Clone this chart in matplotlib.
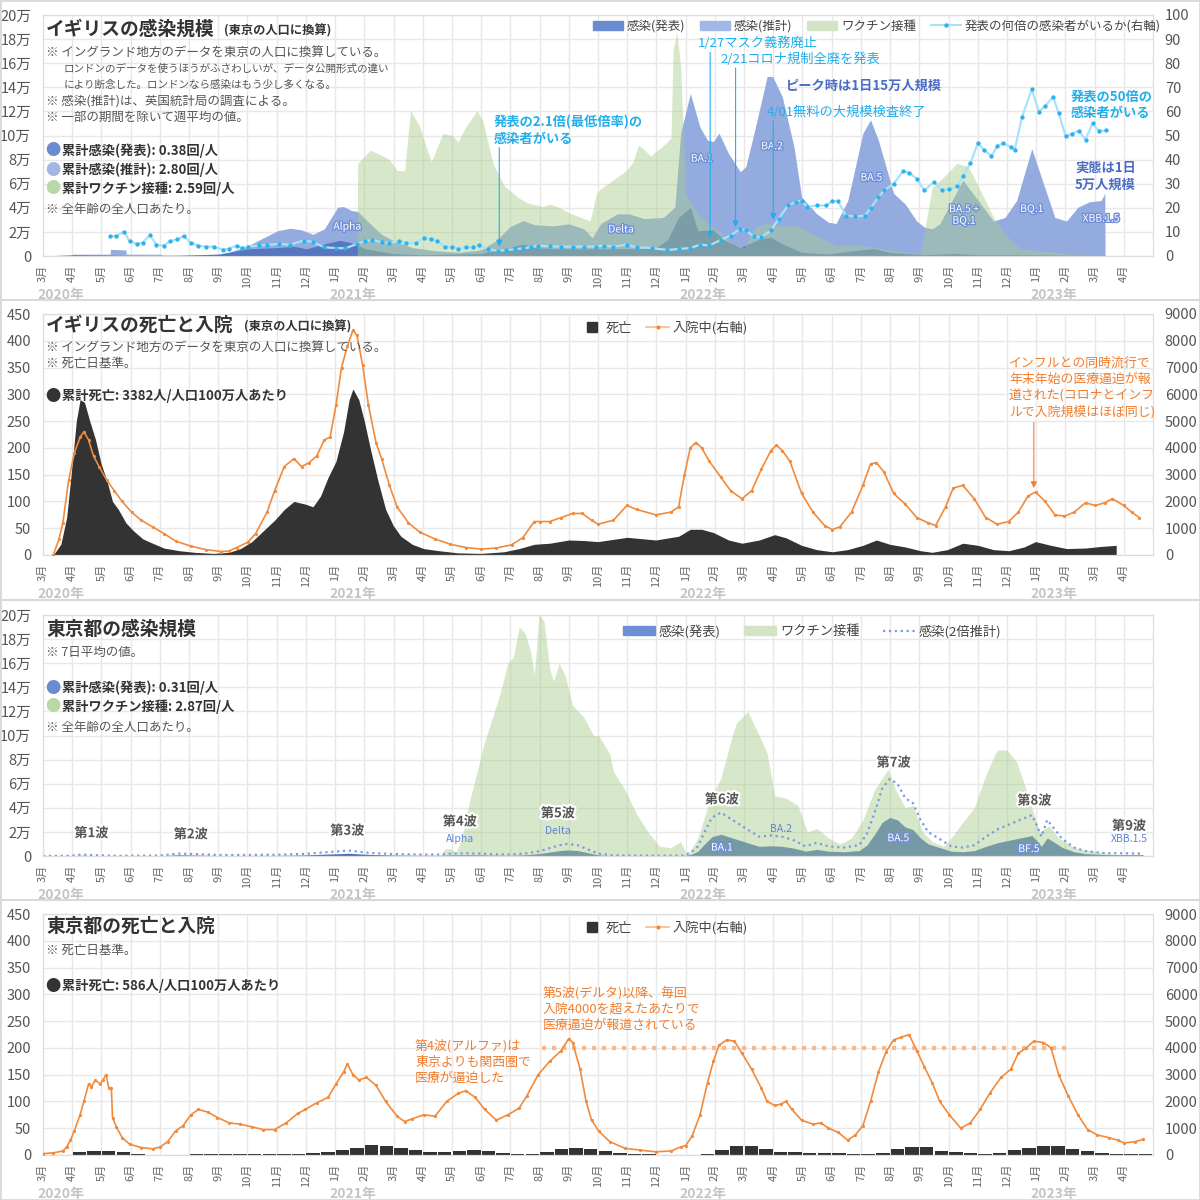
import matplotlib
matplotlib.use("Agg")
import matplotlib.pyplot as plt
import matplotlib.patheffects as pe
import matplotlib.transforms as mtransforms
from matplotlib.lines import Line2D
from matplotlib.patches import Patch, Rectangle
import numpy as np

plt.rcParams["font.family"] = ["Noto Sans CJK JP", "DejaVu Sans"]

# x values are months since 2020-03-01 (0 = 2020年3月, 22 = 2022年1月)
MONTH_LABELS = [f"{(m + 2) % 12 + 1}月" for m in range(38)]
YEAR_TICKS = [0, 10, 22, 34]
YEAR_LABELS = ["2020年", "2021年", "2022年", "2023年"]
MAN_LABELS = ["0", "2万", "4万", "6万", "8万", "10万", "12万", "14万", "16万", "18万", "20万"]

# --- イギリスの感染規模 (persons/day, Tokyo-population scale) ---
UK_EST = [(1.0, 0), (1.01, 1500), (2.3, 1500), (2.31, 5500), (2.84, 5000), (2.85, 1500), (4.0, 1500),
          (4.1, 800), (6.04, 1000), (6.37, 3000), (7.02, 8600), (7.54, 15000), (8.04, 21000), (8.46, 23000),
          (8.85, 21700), (9.24, 18000), (9.63, 22500), (10.09, 40500), (10.29, 41000), (10.55, 37800),
          (10.77, 37000), (11.2, 26700), (11.59, 18000), (11.99, 12800), (12.64, 7000), (13.42, 4400),
          (14.21, 3000), (14.99, 5000), (15.52, 12800), (15.97, 24000), (16.43, 29400), (16.82, 26000),
          (17.48, 25000), (18.0, 26700), (18.52, 22500), (18.8, 15000), (19.1, 27000), (19.66, 35000),
          (20.06, 35000), (20.58, 31000), (21.24, 32000), (21.63, 40500), (21.83, 102000), (22.16, 135000),
          (22.49, 107000), (22.75, 96000), (22.95, 95000), (23.14, 102000), (23.47, 85000), (23.87, 70000),
          (24.06, 74000), (24.39, 107000), (24.79, 149000), (24.98, 149000), (25.31, 132000), (25.71, 90500),
          (25.97, 49000), (26.49, 35000), (26.89, 28000), (27.15, 27000), (27.55, 46000), (28.07, 102000),
          (28.33, 113000), (28.6, 96000), (28.86, 74000), (29.12, 52000), (29.52, 43000), (29.91, 29000),
          (30.17, 24000), (30.44, 22500), (30.7, 26700), (31.49, 63000), (32.54, 29000), (32.93, 32000),
          (33.33, 46000), (33.85, 89000), (34.25, 60000), (34.64, 32000), (35.04, 29000), (35.43, 40500),
          (35.82, 45000), (36.22, 46000), (36.35, 52000), (36.36, 0)]
UK_ANN = [(0, 0), (0.48, 500), (1.0, 1000), (1.92, 800), (2.84, 500), (4.5, 300), (6.04, 1700), (7.02, 6000),
          (8.04, 7000), (8.59, 8000), (9.02, 6000), (9.63, 10000), (10.16, 13000), (10.55, 11000),
          (11.05, 6000), (11.99, 2000), (12.9, 1000), (14.99, 2000), (15.97, 7000), (16.43, 10000),
          (16.82, 7000), (17.48, 6000), (18.0, 6000), (19.0, 6000), (20.32, 6000), (20.98, 7000),
          (21.37, 13000), (21.76, 32000), (22.16, 40500), (22.42, 21000), (22.95, 21700), (23.34, 13000),
          (23.87, 7000), (24.52, 14000), (24.92, 15500), (25.31, 10000), (25.97, 3000), (26.89, 1700),
          (27.94, 5000), (28.47, 6000), (28.99, 3000), (30.17, 1000), (31.22, 2000), (32.14, 1000),
          (33.46, 1000), (36.35, 500), (36.36, 0)]
UK_VAX = [(10.76, 0), (10.77, 76700), (11.2, 87800), (11.59, 83600), (11.86, 80000), (12.12, 71000),
          (12.38, 70500), (12.58, 121000), (12.9, 107000), (13.29, 78000), (13.69, 101700), (14.01, 100000),
          (14.21, 94700), (14.47, 107000), (14.86, 120500), (15.06, 112000), (15.4, 77000), (15.8, 58000),
          (16.3, 48000), (16.6, 44000), (17.1, 41000), (17.35, 43000), (17.7, 40000), (18.0, 36000),
          (18.73, 29000), (18.95, 52000), (19.1, 56000), (19.63, 65000), (19.97, 71000), (20.2, 78000),
          (20.38, 92000), (20.5, 90000), (20.8, 83000), (21.3, 93000), (21.5, 98000), (21.57, 171000),
          (21.7, 186000), (21.83, 157000), (22.0, 52000), (22.42, 35000), (22.95, 24000), (23.6, 10000),
          (24.0, 7000), (24.39, 24000), (24.79, 27000), (25.31, 25000), (25.84, 25000), (26.36, 18000),
          (27.15, 9000), (27.94, 9000), (28.73, 6000), (29.52, 3000), (30.04, 2000), (30.44, 57000),
          (30.83, 65500), (31.29, 77000), (31.68, 74000), (32.14, 52000), (32.54, 32000), (32.93, 18000),
          (33.46, 6000), (34.25, 4000), (35.04, 2000), (36.35, 500), (36.36, 0)]
UK_RATIO = [(2.31, 8.1), (2.51, 8.3), (2.77, 10.1), (2.97, 6.1), (3.22, 5.0), (3.42, 5.6), (3.66, 8.75),
            (3.88, 4.7), (4.14, 4.3), (4.34, 6.1), (4.6, 6.9), (4.82, 8.3), (5.06, 5.4), (5.32, 4.3),
            (5.58, 3.9), (5.84, 3.9), (6.17, 2.6), (6.37, 3.1), (6.63, 4.3), (6.82, 3.3), (7.02, 3.9),
            (7.41, 4.4), (7.67, 4.6), (8.07, 5.0), (8.46, 4.7), (8.92, 6.4), (9.24, 5.8), (9.63, 3.6),
            (10.03, 3.3), (10.35, 3.2), (10.75, 5.0), (11.01, 6.1), (11.27, 6.7), (11.59, 5.7), (11.86, 5.4),
            (12.18, 6.1), (12.44, 5.4), (12.77, 5.3), (13.03, 7.5), (13.29, 6.9), (13.49, 6.4), (13.75, 3.9),
            (14.01, 3.6), (14.21, 3.1), (14.47, 3.6), (14.73, 3.6), (14.93, 4.4), (15.25, 2.9), (15.58, 2.1),
            (15.84, 2.5), (16.17, 2.8), (16.43, 3.2), (16.69, 3.6), (16.95, 4.3), (17.35, 4.0), (17.74, 3.9),
            (18.13, 3.9), (18.52, 3.9), (18.92, 3.9), (19.2, 4.3), (19.53, 3.9), (19.99, 4.7), (20.32, 3.6),
            (20.84, 3.3), (21.37, 2.5), (21.76, 2.9), (22.16, 3.3), (22.49, 4.7), (22.81, 4.4), (23.21, 6.7),
            (23.54, 8.5), (23.87, 11.3), (24.06, 10.6), (24.33, 8.1), (24.59, 7.8), (24.92, 10.6),
            (25.18, 15.4), (25.51, 21.0), (25.77, 22.4), (25.97, 23.0), (26.17, 20.3), (26.49, 21.0),
            (26.82, 21.0), (27.02, 22.8), (27.22, 22.8), (27.48, 16.8), (27.81, 16.4), (28.14, 16.7),
            (28.33, 19.9), (28.6, 24.4), (28.79, 27.2), (29.12, 30.0), (29.45, 35.3), (29.65, 34.6),
            (29.91, 32.1), (30.17, 27.2), (30.5, 30.7), (30.76, 27.5), (31.03, 27.6), (31.29, 28.9),
            (31.49, 33.0), (31.75, 38.6), (32.01, 47.0), (32.21, 43.9), (32.47, 41.5), (32.67, 45.7),
            (32.87, 46.7), (33.13, 45.3), (33.26, 43.9), (33.52, 57.8), (33.85, 69.2), (34.09, 59.9),
            (34.31, 62.2), (34.58, 66.1), (34.77, 59.2), (35.01, 49.7), (35.23, 50.8), (35.46, 51.9),
            (35.69, 48.3), (35.93, 55.0), (36.15, 51.8), (36.38, 52.2)]

# --- イギリスの死亡と入院 ---
UK_DEATH = [(0.35, 0), (0.61, 20), (0.81, 70), (1.0, 170), (1.14, 250), (1.27, 290), (1.42, 285), (1.6, 250),
            (1.8, 215), (1.99, 170), (2.18, 140), (2.38, 100), (2.58, 85), (2.84, 60), (3.1, 45), (3.42, 30),
            (3.75, 22), (4.14, 13), (4.67, 8), (5.19, 5), (5.84, 3), (6.37, 5), (6.76, 12), (7.15, 25),
            (7.54, 45), (7.93, 65), (8.26, 85), (8.59, 100), (8.98, 95), (9.24, 90), (9.5, 110), (9.76, 145),
            (10.03, 175), (10.29, 230), (10.48, 290), (10.61, 310), (10.81, 290), (11.0, 250), (11.2, 200),
            (11.46, 140), (11.73, 85), (11.99, 55), (12.25, 35), (12.64, 20), (13.03, 12), (13.56, 8),
            (14.2, 4), (14.99, 3), (15.78, 6), (16.3, 12), (16.82, 20), (17.35, 22), (18.0, 28), (18.52, 27),
            (19.0, 25), (20.0, 33), (20.98, 28), (21.76, 35), (22.16, 48), (22.55, 48), (22.95, 42),
            (23.47, 28), (23.93, 22), (24.52, 28), (25.05, 38), (25.44, 32), (25.97, 18), (26.49, 10),
            (27.02, 6), (27.54, 10), (28.07, 18), (28.53, 28), (28.99, 20), (29.52, 15), (30.04, 8),
            (30.44, 5), (30.96, 10), (31.49, 22), (32.01, 18), (32.54, 10), (33.06, 8), (33.59, 15),
            (33.98, 25), (34.51, 18), (35.04, 12), (35.69, 13), (36.22, 16), (36.74, 18)]
UK_HOSP = [(0.35, 0), (0.55, 600), (0.68, 1200), (0.88, 2800), (1.07, 3800), (1.27, 4400), (1.4, 4600),
           (1.56, 4300), (1.73, 3700), (1.92, 3300), (2.18, 2800), (2.44, 2400), (2.71, 2000), (3.03, 1600),
           (3.36, 1300), (3.75, 1050), (4.14, 800), (4.54, 520), (5.06, 330), (5.58, 200), (6.1, 130),
           (6.37, 150), (6.63, 280), (7.02, 480), (7.28, 800), (7.67, 1600), (7.93, 2400), (8.26, 3300),
           (8.59, 3600), (8.85, 3300), (9.11, 3450), (9.37, 3700), (9.63, 4300), (9.83, 4400), (10.03, 5600),
           (10.22, 7000), (10.42, 7800), (10.61, 8400), (10.75, 8200), (10.94, 7100), (11.14, 5600),
           (11.4, 4200), (11.59, 3600), (11.86, 2600), (12.12, 1800), (12.51, 1200), (12.9, 850),
           (13.42, 600), (13.95, 400), (14.47, 280), (14.99, 220), (15.52, 260), (16.04, 380), (16.43, 650),
           (16.82, 1250), (17.02, 1250), (17.35, 1250), (17.74, 1400), (18.13, 1550), (18.46, 1550),
           (18.78, 1300), (19.0, 1150), (19.53, 1300), (19.99, 1850), (20.32, 1700), (20.98, 1500),
           (21.5, 1600), (21.76, 1800), (21.96, 3000), (22.16, 4000), (22.35, 4200), (22.55, 4000),
           (22.81, 3500), (23.21, 2900), (23.54, 2400), (23.93, 2100), (24.26, 2400), (24.59, 3200),
           (24.92, 3900), (25.11, 4100), (25.31, 3900), (25.57, 3500), (25.97, 2300), (26.36, 1600),
           (26.76, 1100), (27.02, 950), (27.28, 1050), (27.68, 1600), (28.07, 2600), (28.33, 3400),
           (28.53, 3450), (28.79, 3100), (29.12, 2300), (29.52, 1900), (29.91, 1400), (30.3, 1200),
           (30.56, 1100), (30.9, 1800), (31.16, 2500), (31.49, 2600), (31.88, 2100), (32.27, 1400),
           (32.67, 1150), (33.06, 1250), (33.39, 1600), (33.72, 2200), (33.98, 2350), (34.31, 2000),
           (34.64, 1500), (34.97, 1450), (35.3, 1600), (35.69, 1950), (36.02, 1850), (36.35, 1950),
           (36.61, 2100), (37.0, 1850), (37.27, 1600), (37.53, 1400)]

# --- 東京都の感染規模 ---
TK_ANN = [(0, 0), (1.0, 100), (1.3, 600), (1.8, 300), (2.5, 80), (4.0, 150), (4.6, 1000), (5.2, 800),
          (6.0, 400), (8.0, 500), (9.0, 900), (9.6, 1500), (10.2, 2000), (10.45, 2300), (10.8, 1800),
          (11.3, 1200), (12.0, 800), (13.0, 600), (13.6, 600), (14.0, 1000), (14.5, 1100), (15.0, 1000),
          (15.5, 700), (16.0, 600), (16.5, 1000), (17.0, 2000), (17.4, 3500), (17.7, 4500), (17.95, 5000),
          (18.3, 4500), (18.6, 3000), (19.0, 1000), (19.5, 300), (20.0, 200), (21.0, 100), (21.9, 200),
          (22.2, 1500), (22.42, 4000), (22.65, 10000), (22.9, 16000), (23.21, 18000), (23.6, 15000),
          (23.99, 12000), (24.52, 8000), (24.92, 8500), (25.31, 8000), (25.71, 6500), (26.1, 4000),
          (26.49, 5500), (26.89, 4000), (27.41, 3500), (27.94, 4500), (28.2, 9000), (28.47, 18000),
          (28.73, 28000), (28.99, 32000), (29.25, 30000), (29.52, 24000), (29.78, 22000), (30.04, 15000),
          (30.3, 10000), (30.7, 7000), (31.09, 4000), (31.49, 3500), (31.88, 4500), (32.28, 8000),
          (32.67, 11000), (33.06, 13000), (33.46, 15000), (33.85, 17000), (34.05, 12000), (34.18, 8000),
          (34.38, 15000), (34.64, 11000), (34.9, 7000), (35.3, 3500), (35.69, 2000), (36.35, 1200),
          (37.66, 1000)]
TK_VAX = [(13.6, 0), (13.75, 6000), (13.95, 6000), (14.14, 3000), (14.34, 15000), (14.6, 45000),
          (14.86, 70000), (15.12, 95000), (15.39, 115000), (15.65, 135000), (15.91, 160000), (16.1, 165000),
          (16.3, 190000), (16.5, 185000), (16.69, 170000), (16.82, 150000), (16.98, 200000), (17.15, 195000),
          (17.35, 155000), (17.48, 145000), (17.67, 160000), (17.87, 150000), (18.13, 125000),
          (18.52, 115000), (18.85, 100000), (19.02, 100000), (19.4, 85000), (19.53, 70000), (19.92, 55000),
          (20.32, 35000), (20.71, 20000), (21.11, 8000), (21.5, 7000), (21.83, 12000), (22.05, 0),
          (22.42, 15000), (22.81, 45000), (23.21, 65000), (23.54, 95000), (23.73, 110000), (24.13, 120000),
          (24.52, 100000), (24.79, 85000), (25.05, 50000), (25.44, 48000), (25.84, 42000), (26.17, 20000),
          (26.49, 23000), (26.89, 15000), (27.28, 10000), (27.68, 15000), (28.07, 30000), (28.47, 55000),
          (28.93, 72000), (29.19, 55000), (29.52, 40000), (29.78, 42000), (30.11, 20000), (30.44, 12000),
          (30.83, 8000), (31.09, 15000), (31.49, 28000), (31.88, 40000), (32.14, 58000), (32.41, 75000),
          (32.67, 88000), (33.0, 88000), (33.33, 78000), (33.59, 60000), (33.92, 35000), (34.12, 20000),
          (34.44, 25000), (34.77, 15000), (35.3, 7000), (35.96, 4000), (36.61, 1500), (37.66, 500)]

# --- 東京都の死亡と入院 ---
# deaths per day, half-month averages from 2020年3月前半 to 2023年4月後半
TK_DEATH = [0.3, 0.5, 5, 7, 8, 5, 1, 0.5, 0.3, 0.3, 1.5, 2, 2, 1.5, 1.5, 1.2, 1, 1.5, 4, 6,
            9, 13, 18, 16, 14, 10, 6, 5, 7, 9, 7, 4, 2, 2, 6, 11, 14, 12, 8, 3, 1.5, 1, 0.5, 0.5,
            0.5, 2, 9, 16, 16, 12, 6, 5, 4, 4, 3, 1.5, 1, 3, 12, 15, 15, 8, 5, 3, 2, 3, 9, 13,
            17, 16, 11, 7, 3, 2, 1.5, 1]
TK_HOSP = [(0, 50), (0.35, 80), (0.68, 150), (0.81, 300), (0.94, 550), (1.07, 900), (1.27, 1500), (1.4, 2000),
           (1.56, 2650), (1.66, 2550), (1.79, 2800), (1.95, 2650), (2.05, 2800), (2.16, 3000), (2.25, 2500),
           (2.34, 2500), (2.38, 1400), (2.51, 1050), (2.71, 650), (2.97, 400), (3.36, 280), (3.75, 230),
           (4.01, 300), (4.27, 500), (4.54, 900), (4.8, 1100), (5.06, 1500), (5.32, 1700), (5.65, 1600),
           (5.97, 1400), (6.37, 1200), (6.76, 1150), (7.15, 1050), (7.54, 950), (7.93, 950), (8.33, 1200),
           (8.72, 1550), (8.98, 1700), (9.37, 1950), (9.76, 2150), (10.03, 2650), (10.29, 3100),
           (10.42, 3400), (10.61, 3000), (10.81, 2800), (11.07, 2900), (11.4, 2600), (11.73, 2000),
           (12.12, 1450), (12.38, 1250), (12.64, 1350), (13.03, 1500), (13.42, 1450), (13.82, 2000),
           (14.21, 2300), (14.47, 2400), (14.8, 2150), (15.12, 1700), (15.52, 1300), (15.91, 1500),
           (16.3, 1750), (16.56, 2200), (16.95, 3000), (17.35, 3500), (17.74, 3900), (18.0, 4350),
           (18.13, 4200), (18.39, 3200), (18.59, 2000), (18.78, 1300), (19.02, 900), (19.4, 500),
           (19.92, 250), (20.45, 180), (20.98, 120), (21.5, 150), (21.83, 300), (22.0, 350), (22.22, 700),
           (22.49, 1500), (22.75, 2700), (22.95, 3500), (23.14, 4100), (23.41, 4300), (23.67, 4250),
           (23.93, 3800), (24.26, 3200), (24.59, 2500), (24.79, 2000), (25.05, 1850), (25.25, 1900),
           (25.44, 2000), (25.64, 1700), (25.97, 1300), (26.36, 1150), (26.63, 1200), (26.89, 1000),
           (27.22, 850), (27.55, 550), (27.81, 750), (28.07, 1100), (28.33, 2000), (28.6, 3100),
           (28.86, 3850), (29.12, 4300), (29.38, 4400), (29.65, 4500), (29.91, 3900), (30.17, 3300),
           (30.44, 2700), (30.7, 2000), (31.03, 1500), (31.42, 1000), (31.75, 1200), (32.08, 1700),
           (32.41, 2300), (32.8, 2900), (33.13, 3200), (33.39, 3800), (33.66, 4000), (33.92, 4250),
           (34.25, 4200), (34.51, 4000), (34.77, 3000), (35.1, 2200), (35.43, 1500), (35.76, 950),
           (36.09, 750), (36.48, 650), (36.81, 550), (37.01, 450), (37.4, 500), (37.66, 580)]
TK_ALERT_SPAN = (17.08, 35.19)
TK_ALERT_LEVEL = 4000

W = H = 1200
GREY = "#555555"
CYAN = "#22aeea"
NAVY = "#4a6cc4"
ORANGE = "#f07d2e"


def xy(pairs):
    a = np.array(pairs, dtype=float)
    return a[:, 0], a[:, 1]


def put(fig, x, y, s, **kw):
    kw.setdefault("va", "center")
    kw.setdefault("color", GREY)
    fig.text(x / W, 1 - y / H, s, **kw)


def make_panel(fig, top, ymax, ystep, ylabels, rmax=None, rstep=None):
    ax = fig.add_axes([43 / W, 1 - (top + 241) / H, 1110 / W, 241 / H])
    ax.set_xlim(0, 38)
    ax.set_ylim(0, ymax)
    ax.set_xticks(np.arange(38))
    ax.set_xticklabels(MONTH_LABELS, rotation=90, fontsize=8, color="#666666")
    ax.set_yticks(np.arange(0, ymax + 1, ystep))
    ax.set_yticklabels(ylabels, fontsize=10.5, color=GREY)
    ax.tick_params(length=0)
    ax.tick_params(axis="y", pad=8.5)
    ax.tick_params(axis="x", pad=6)
    ax.grid(True, color="#e8e8e8", lw=1)
    ax.set_axisbelow(True)
    for sp in ax.spines.values():
        sp.set_color("#dddddd")
    trans = mtransforms.blended_transform_factory(ax.transData, ax.transAxes)
    for m, lab in zip(YEAR_TICKS, YEAR_LABELS):
        ax.text(m - 0.2, -0.16, lab, transform=trans, ha="left", va="center",
                fontsize=10, weight="bold", color="#c4c4c4")
    axr = ax.twinx()
    if rmax:
        axr.set_ylim(0, rmax)
        ticks = np.arange(0, rmax + 1, rstep)
        axr.set_yticks(ticks)
        axr.set_yticklabels([f"{t:d}" for t in ticks], fontsize=10.5, color=GREY)
    else:
        axr.set_yticks([])
    axr.tick_params(length=0, pad=8.5)
    for sp in axr.spines.values():
        sp.set_color("#dddddd")
    return ax, axr


def bullet(fig, y, color, text):
    put(fig, 53, y, "●", color=color, fontsize=11, ha="center")
    put(fig, 62, y, text, fontsize=9.5, weight="bold", color="#333333")


def title(fig, y, main, sub=None, sub_x=None):
    put(fig, 46, y, main, fontsize=13.5, weight="bold", color="#333333")
    if sub:
        put(fig, sub_x, y + 2, sub, fontsize=8.8, weight="bold", color="#333333")


def variant(ax, x, y, s, inside=True):
    if inside:
        ax.text(x, y, s, ha="center", va="center", fontsize=7.5, color="white", zorder=8,
                path_effects=[pe.withStroke(linewidth=2, foreground="#6f8fd6")])
    else:
        ax.text(x, y, s, ha="center", va="center", fontsize=7.5, color="#5f84da", zorder=8)


def wave(ax, x, y, s):
    ax.text(x, y, s, ha="center", va="center", fontsize=9.5, weight="bold", color="#555555", zorder=8,
            path_effects=[pe.withStroke(linewidth=3, foreground="white")])


def arrow(ax, x, y0, y1, color):
    ax.annotate("", xy=(x, y1), xytext=(x, y0),
                arrowprops=dict(arrowstyle="-|>", color=color, lw=0.8, mutation_scale=9,
                                shrinkA=0, shrinkB=0))


fig = plt.figure(figsize=(12, 12), dpi=100)

# ---------------- panel 1: UK infections ----------------
ax, axr = make_panel(fig, 15, 200000, 20000, MAN_LABELS, 100, 10)
t, v = xy(UK_EST)
ax.fill_between(t, v, color="#94abe0", lw=0, zorder=2)
t, v = xy(UK_ANN)
ax.fill_between(t, v, color="#5676c0", lw=0, zorder=3)
t, v = xy(UK_VAX)
ax.fill_between(t, v, color="#a7cd8a", alpha=0.45, lw=0, zorder=4)
t, v = xy(UK_RATIO)
axr.plot(t, v, color="#a6e3f9", lw=1.6, marker="o", ms=2.1, mfc="#2cb2ee", mec="#2cb2ee", zorder=5)

for x, y, s in [(10.42, 24400, "Alpha"), (19.79, 22000, "Delta"), (22.55, 80800, "BA.1"),
                (24.96, 91000, "BA.2"), (28.36, 65000, "BA.5"), (31.53, 34000, "BA.5 +\nBQ.1"),
                (33.85, 39000, "BQ.1"), (36.22, 31000, "XBB.1.5")]:
    variant(ax, x, y, s)

arrow(axr, 15.62, 45, 4, CYAN)
arrow(axr, 22.84, 84.5, 7.5, CYAN)
arrow(axr, 23.71, 78, 12, CYAN)
arrow(axr, 25.0, 56, 15, CYAN)

axr.legend(handles=[Patch(color="#6a8bd0", label="感染(発表)"),
                    Patch(color="#a3b7e6", label="感染(推計)"),
                    Patch(color="#d2e4c3", label="ワクチン接種"),
                    Line2D([], [], color="#a6e3f9", lw=1.5, marker="o", ms=2.2, mfc="#2cb2ee",
                           mec="#2cb2ee", label="発表の何倍の感染者がいるか(右軸)")],
           loc="upper center", bbox_to_anchor=(0.751, 1.028), ncol=4, frameon=False, fontsize=9,
           handlelength=2.4, handleheight=0.7, handletextpad=0.3, columnspacing=1.2, labelcolor="#444444")

title(fig, 29, "イギリスの感染規模", "(東京の人口に換算)", 224)
put(fig, 46, 52, "※ イングランド地方のデータを東京の人口に換算している。", fontsize=9)
put(fig, 64, 69, "ロンドンのデータを使うほうがふさわしいが、データ公開形式の違い", fontsize=7.6)
put(fig, 64, 85, "により断念した。ロンドンなら感染はもう少し多くなる。", fontsize=7.6)
put(fig, 46, 101, "※ 感染(推計)は、英国統計局の調査による。", fontsize=9)
put(fig, 46, 117, "※ 一部の期間を除いて週平均の値。", fontsize=9)
bullet(fig, 151, "#6a8bd0", "累計感染(発表): 0.38回/人")
bullet(fig, 170, "#a3b7e6", "累計感染(推計): 2.80回/人")
bullet(fig, 189, "#b9d8a5", "累計ワクチン接種: 2.59回/人")
put(fig, 46, 209, "※ 全年齢の全人口あたり。", fontsize=9)

put(fig, 494, 130, "発表の2.1倍(最低倍率)の\n感染者がいる", fontsize=9.5, color=CYAN, weight="bold", linespacing=1.25)
put(fig, 698, 43, "1/27マスク義務廃止", fontsize=9.5, color=CYAN)
put(fig, 720, 59, "2/21コロナ規制全廃を発表", fontsize=9.5, color=CYAN)
put(fig, 786, 86, "ピーク時は1日15万人規模", fontsize=9.5, color=NAVY, weight="bold")
put(fig, 767, 112, "4/01無料の大規模検査終了", fontsize=9.5, color=CYAN)
put(fig, 1071, 105, "発表の50倍の\n感染者がいる", fontsize=9.5, color=CYAN, weight="bold", linespacing=1.25)
put(fig, 1075, 176, "実態は1日\n5万人規模", fontsize=9.5, color=NAVY, weight="bold", linespacing=1.25)

# ---------------- panel 2: UK deaths / hospital ----------------
ax, axr = make_panel(fig, 314, 450, 50, [str(v) for v in range(0, 451, 50)], 9000, 1000)
t, v = xy(UK_DEATH)
ax.fill_between(t, v, color="#333333", lw=0, zorder=2)
t, v = xy(UK_HOSP)
axr.plot(t, v, color="#f28a3c", lw=1.2, marker="o", ms=1.3, zorder=5)
arrow(axr, 33.92, 4950, 2500, ORANGE)
death_handles = [Line2D([], [], marker="s", ls="none", color="#333333", ms=6.5, label="死亡"),
                 Line2D([], [], color="#f8b88a", lw=1.2, marker="o", ms=2, mfc="#f08a3c", mec="#f08a3c",
                        label="入院中(右軸)")]
axr.legend(handles=death_handles, loc="upper center", bbox_to_anchor=(0.559, 1.022), ncol=2, frameon=False,
           fontsize=9.5, handlelength=1.8, handletextpad=0.2, columnspacing=1.0, labelcolor="#444444")

title(fig, 325, "イギリスの死亡と入院", "(東京の人口に換算)", 244)
put(fig, 46, 347, "※ イングランド地方のデータを東京の人口に換算している。", fontsize=9)
put(fig, 46, 363, "※ 死亡日基準。", fontsize=9)
bullet(fig, 396, "#333333", "累計死亡: 3382人/人口100万人あたり")
put(fig, 1009, 388, "インフルとの同時流行で\n年末年始の医療逼迫が報\n道された(コロナとインフ\nルで入院規模はほぼ同じ)",
    fontsize=9.3, color=ORANGE, linespacing=1.3)

# ---------------- panel 3: Tokyo infections ----------------
ax, axr = make_panel(fig, 615, 200000, 20000, MAN_LABELS)
t, v = xy(TK_ANN)
ax.fill_between(t, v, color="#4d72bd", lw=0, zorder=2)
t2, v2 = xy(TK_VAX)
ax.fill_between(t2, v2, color="#a7cd8a", alpha=0.45, lw=0, zorder=3)
ax.plot(t, 2 * v, color="#7b9be0", ls=":", lw=1.6, zorder=5)

for x, y, s in [(1.66, 19000, "第1波"), (5.06, 18000, "第2波"), (10.42, 21000, "第3波"),
                (14.27, 28600, "第4波"), (17.63, 35500, "第5波"), (23.24, 47000, "第6波"),
                (29.12, 77500, "第7波"), (33.94, 46000, "第8波"), (37.18, 25000, "第9波")]:
    wave(ax, x, y, s)
for x, y, s in [(14.27, 14000, "Alpha"), (17.61, 20500, "Delta"), (25.25, 22500, "BA.2"),
                (37.18, 14000, "XBB.1.5")]:
    variant(ax, x, y, s, inside=False)
for x, y, s in [(23.24, 7000, "BA.1"), (29.28, 14700, "BA.5"), (33.75, 5800, "BF.5")]:
    variant(ax, x, y, s)

axr.legend(handles=[Patch(color="#6d8fd6", label="感染(発表)"),
                    Patch(color="#d2e4c3", label="ワクチン接種"),
                    Line2D([], [], color="#7b9be0", ls=":", lw=1.6, label="感染(2倍推計)")],
           loc="upper center", bbox_to_anchor=(0.693, 1.01), ncol=3, frameon=False, fontsize=9.5,
           handlelength=2.4, handleheight=0.7, handletextpad=0.3, columnspacing=1.8, labelcolor="#444444")

title(fig, 629, "東京都の感染規模")
put(fig, 46, 652, "※ 7日平均の値。", fontsize=9)
bullet(fig, 688, "#6a8bd0", "累計感染(発表): 0.31回/人")
bullet(fig, 707, "#b9d8a5", "累計ワクチン接種: 2.87回/人")
put(fig, 46, 727, "※ 全年齢の全人口あたり。", fontsize=9)

# ---------------- panel 4: Tokyo deaths / hospital ----------------
ax, axr = make_panel(fig, 914, 450, 50, [str(v) for v in range(0, 451, 50)], 9000, 1000)
half_months = np.arange(len(TK_DEATH)) * 0.5 + 0.25
ax.bar(half_months, TK_DEATH, width=0.46, color="#333333", lw=0, zorder=2)
axr.plot(list(TK_ALERT_SPAN), [TK_ALERT_LEVEL] * 2, color="#f8b98c", lw=3, ls=(0, (1, 1.4)), zorder=4)
t, v = xy(TK_HOSP)
axr.plot(t, v, color="#f28a3c", lw=1.2, marker="o", ms=1.3, zorder=5)
axr.legend(handles=death_handles, loc="upper center", bbox_to_anchor=(0.559, 1.022), ncol=2, frameon=False,
           fontsize=9.5, handlelength=1.8, handletextpad=0.2, columnspacing=1.0, labelcolor="#444444")

title(fig, 926, "東京都の死亡と入院")
put(fig, 46, 950, "※ 死亡日基準。", fontsize=9)
bullet(fig, 986, "#333333", "累計死亡: 586人/人口100万人あたり")
put(fig, 415, 1062, "第4波(アルファ)は\n東京よりも関西圏で\n医療が逼迫した", fontsize=9.3, color=ORANGE,
    linespacing=1.3)
put(fig, 543, 1009, "第5波(デルタ)以降、毎回\n入院4000を超えたあたりで\n医療逼迫が報道されている", fontsize=9.3,
    color=ORANGE, linespacing=1.3)

for y in (300, 600, 900):
    fig.add_artist(Line2D([0, 1], [1 - y / H] * 2, transform=fig.transFigure, color="#d9d9d9", lw=1.5))
fig.add_artist(Rectangle((0, 0), 1, 1, transform=fig.transFigure, fill=False, edgecolor="#d9d9d9", lw=2))

fig.savefig("out.png", dpi=100, facecolor="white")
